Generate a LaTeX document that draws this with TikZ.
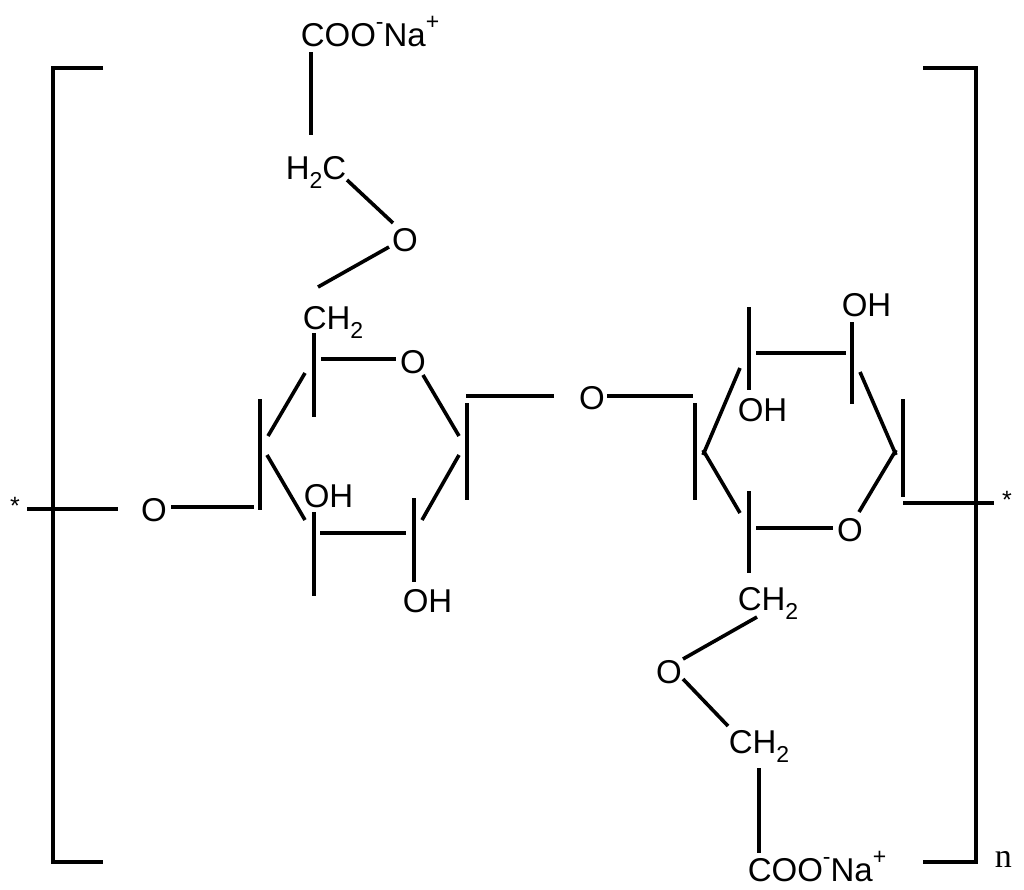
\documentclass[tikz,border=0pt]{standalone}
\usepackage{fontspec}
\setmainfont{Liberation Sans}
\newfontfamily\seriff{Liberation Serif}
\newcommand{\subt}[1]{\raisebox{-0.28em}{\fontsize{23}{23}\selectfont #1}}
\newcommand{\supt}[1]{\raisebox{0.5em}{\fontsize{23}{23}\selectfont #1}}
\begin{document}
\begin{tikzpicture}[x=1pt,y=-1pt,line width=3.6pt,
  t/.style={inner sep=0pt,font=\fontsize{33}{33}\selectfont},
  tw/.style={t,anchor=base west},
  tc/.style={t,anchor=base}]
\useasboundingbox (0,0) rectangle (1024,889);
% brackets
\draw (103,68) -- (53,68) -- (53,862) -- (103,862);
\draw (923,68) -- (976,68) -- (976,862) -- (923,862);
\node[t,font=\fontsize{25}{25}\selectfont] (st1) at (15,506) {*};
\node[t,font=\fontsize{25}{25}\selectfont] (st2) at (1007,500) {*};
\node[tw,font=\seriff\fontsize{34}{34}\selectfont] (n) at (993,867) {n};
% ring 1 texts
\node[tc] (o1) at (154,521) {O};
\node[tw] (ch1) at (301,329) {CH\subt{2}};
\node[tc] (or1) at (413,373) {O};
\node[tc] (ol) at (592,409) {O};
\node[tw] (oh1) at (302,507) {OH};
\node[tw] (oh2) at (401,612) {OH};
% ring 1 bonds
\draw (27,509) -- (118,509);
\draw (171,507) -- (254,507);
\draw (260,399) -- (260,510);
\draw (268,436) -- (305,373);
\draw (314,333) -- (314,417);
\draw (321,359) -- (396,359);
\draw (423,375) -- (459,436);
\draw (467,403) -- (467,500);
\draw (466,396) -- (554,396);
\draw (459,455) -- (422,520);
\draw (414,498) -- (414,582);
\draw (320,533) -- (406,533);
\draw (314,512) -- (314,596);
\draw (267,455) -- (305,520);
% upper chain
\node[tw] (coo1) at (299,46) {COO\supt{-}Na\supt{+}};
\node[tw] (h2c) at (284,179) {H\subt{2}C};
\node[tc] (o2) at (405,251) {O};
\draw (311,52) -- (311,135);
\draw (347,180) -- (393,223);
\draw (389,247) -- (318,287);
% ring 2 texts
\node[tw] (oh3) at (736,421) {OH};
\node[tw] (oh4) at (840,316) {OH};
\node[tc] (or2) at (850,541) {O};
\node[tw] (ch2) at (736,610) {CH\subt{2}};
% ring 2 bonds
\draw (607,396) -- (693,396);
\draw (695,403) -- (695,500);
\draw (703,455) -- (740,368);
\draw (749,307) -- (749,390);
\draw (756,353) -- (846,353);
\draw (852,322) -- (852,404);
\draw (860,372) -- (896,455);
\draw (903,399) -- (903,497);
\draw (896,450) -- (859,512);
\draw (756,528) -- (833,528);
\draw (749,491) -- (749,573);
\draw (703,450) -- (740,513);
\draw (903,503) -- (994,503);
% lower chain
\node[tc] (o3) at (669,683) {O};
\node[tw] (ch3) at (727,753) {CH\subt{2}};
\node[tw] (coo2) at (746,881) {COO\supt{-}Na\supt{+}};
\draw (757,617) -- (683,659);
\draw (683,679) -- (728,726);
\draw (759,768) -- (759,853);
\end{tikzpicture}
\end{document}
